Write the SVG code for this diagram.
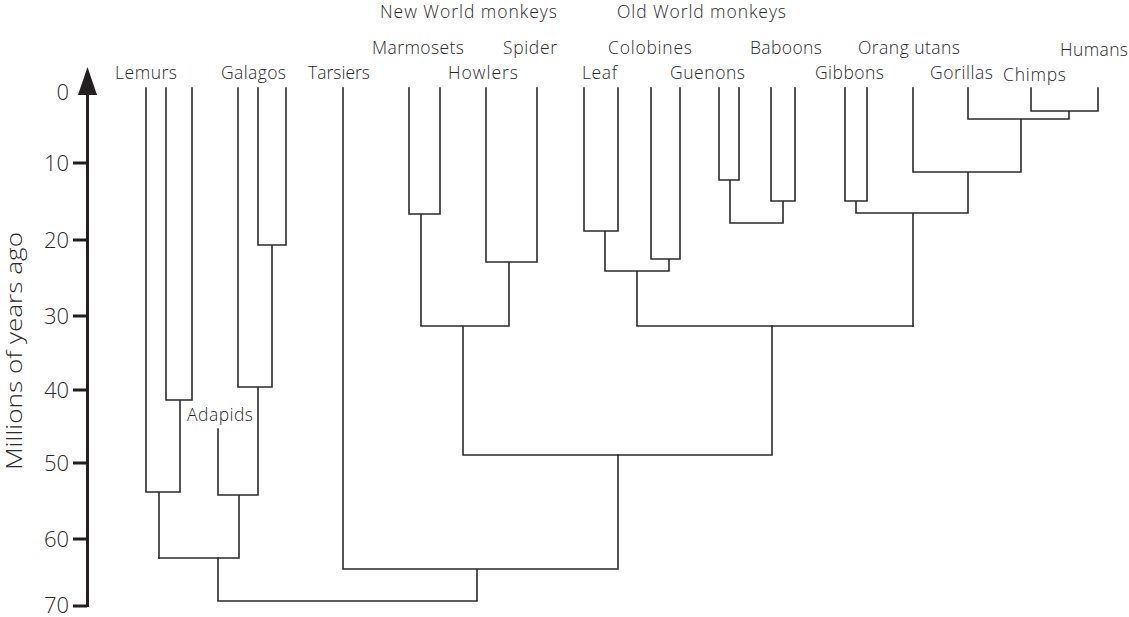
<svg xmlns="http://www.w3.org/2000/svg" width="1129" height="617" viewBox="0 0 1129 617">
<style>
.lbl{font-family:"Open Sans","Liberation Sans",sans-serif;font-weight:300;font-size:17.5px;fill:#2a2a2a}
.num{font-family:"Open Sans","Liberation Sans",sans-serif;font-weight:300;font-size:22px;fill:#2a2a2a;text-anchor:end}
.ttl{font-family:"Open Sans","Liberation Sans",sans-serif;font-weight:300;font-size:22px;fill:#2a2a2a;text-anchor:middle}
.br{fill:none;stroke:#2b2b2b;stroke-width:1.6;stroke-linejoin:miter;stroke-linecap:square}
.ax{fill:none;stroke:#231f20;stroke-width:3}
</style>
<rect width="1129" height="617" fill="#ffffff"/>
<g id="axis">
<path class="ax" d="M87.5,92 V607"/>
<polygon points="87.5,67 78,95 97,95" fill="#231f20"/>
<path class="ax" d="M73,163 H87 M73,240 H87 M73,316 H87 M73,390 H87 M73,463 H87 M73,539 H87 M73,606 H87"/>
<text class="num" x="69" y="100">0</text>
<text class="num" x="69" y="171">10</text>
<text class="num" x="69" y="248">20</text>
<text class="num" x="69" y="324">30</text>
<text class="num" x="69" y="398">40</text>
<text class="num" x="69" y="471">50</text>
<text class="num" x="69" y="547">60</text>
<text class="num" x="69" y="613">70</text>
<text class="ttl" transform="translate(22,351) rotate(-90)" textLength="238" lengthAdjust="spacingAndGlyphs">Millions of years ago</text>
</g>
<g id="connectors">
<path class="br" d="M146,88 V492 H180 M166,88 V400 H192 V88 M180,400 V492 M159,492 V558"/>
<path class="br" d="M258,88 V245 H286 V88 M272,245 V387 M238,88 V387 H272 M258,387 V495 M218,429 V495 H258 M239,495 V558 M159,558 H239"/>
<path class="br" d="M218,558 V601 H477 V569 M343,88 V569 H618 V455"/>
<path class="br" d="M409,88 V214 H440 V88 M421,214 V326 M486,88 V262 H537 V88 M509,262 V326 M421,326 H509 M463,326 V455 H772 V326"/>
<path class="br" d="M584,88 V231 H618 V88 M605,231 V271 M651,88 V259 H680 V88 M669,259 V271 M605,271 H669 M637,271 V326 H913"/>
<path class="br" d="M719,88 V180 H739 V88 M730,180 V223 H783 M771,88 V201 H795 V88 M783,201 V223"/>
<path class="br" d="M845,88 V201 H867 V88 M856,201 V213 H968 M913,88 V172 H1021 M968,172 V213 M913,213 V326 M968,88 V119 H1069 M1021,119 V172 M1031,88 V111 H1098 V88 M1069,111 V119"/>
</g>
<g id="group-labels">
<text class="lbl" x="380" y="17.5" textLength="177" lengthAdjust="spacing">New World monkeys</text>
<text class="lbl" x="617" y="17.5" textLength="169" lengthAdjust="spacing">Old World monkeys</text>
</g>
<g id="node-lemurs"><text class="lbl" x="115" y="79" textLength="62" lengthAdjust="spacing">Lemurs</text></g>
<g id="node-galagos"><text class="lbl" x="221" y="79" textLength="65" lengthAdjust="spacing">Galagos</text></g>
<g id="node-adapids"><text class="lbl" x="187" y="421" textLength="66" lengthAdjust="spacing">Adapids</text></g>
<g id="node-tarsiers"><text class="lbl" x="308" y="79" textLength="62" lengthAdjust="spacing">Tarsiers</text></g>
<g id="node-marmosets"><text class="lbl" x="372" y="54" textLength="92" lengthAdjust="spacing">Marmosets</text></g>
<g id="node-howlers"><text class="lbl" x="448" y="79" textLength="70" lengthAdjust="spacing">Howlers</text></g>
<g id="node-spider"><text class="lbl" x="503" y="54" textLength="54" lengthAdjust="spacing">Spider</text></g>
<g id="node-leaf"><text class="lbl" x="582" y="79" textLength="35" lengthAdjust="spacing">Leaf</text></g>
<g id="node-colobines"><text class="lbl" x="608" y="54" textLength="84" lengthAdjust="spacing">Colobines</text></g>
<g id="node-guenons"><text class="lbl" x="670" y="79" textLength="75" lengthAdjust="spacing">Guenons</text></g>
<g id="node-baboons"><text class="lbl" x="750" y="54" textLength="72" lengthAdjust="spacing">Baboons</text></g>
<g id="node-gibbons"><text class="lbl" x="815" y="79" textLength="69" lengthAdjust="spacing">Gibbons</text></g>
<g id="node-orang"><text class="lbl" x="858" y="54" textLength="102" lengthAdjust="spacing">Orang utans</text></g>
<g id="node-gorillas"><text class="lbl" x="930" y="79" textLength="63" lengthAdjust="spacing">Gorillas</text></g>
<g id="node-chimps"><text class="lbl" x="1003" y="81" textLength="63" lengthAdjust="spacing">Chimps</text></g>
<g id="node-humans"><text class="lbl" x="1060" y="56" textLength="68" lengthAdjust="spacing">Humans</text></g>
</svg>
